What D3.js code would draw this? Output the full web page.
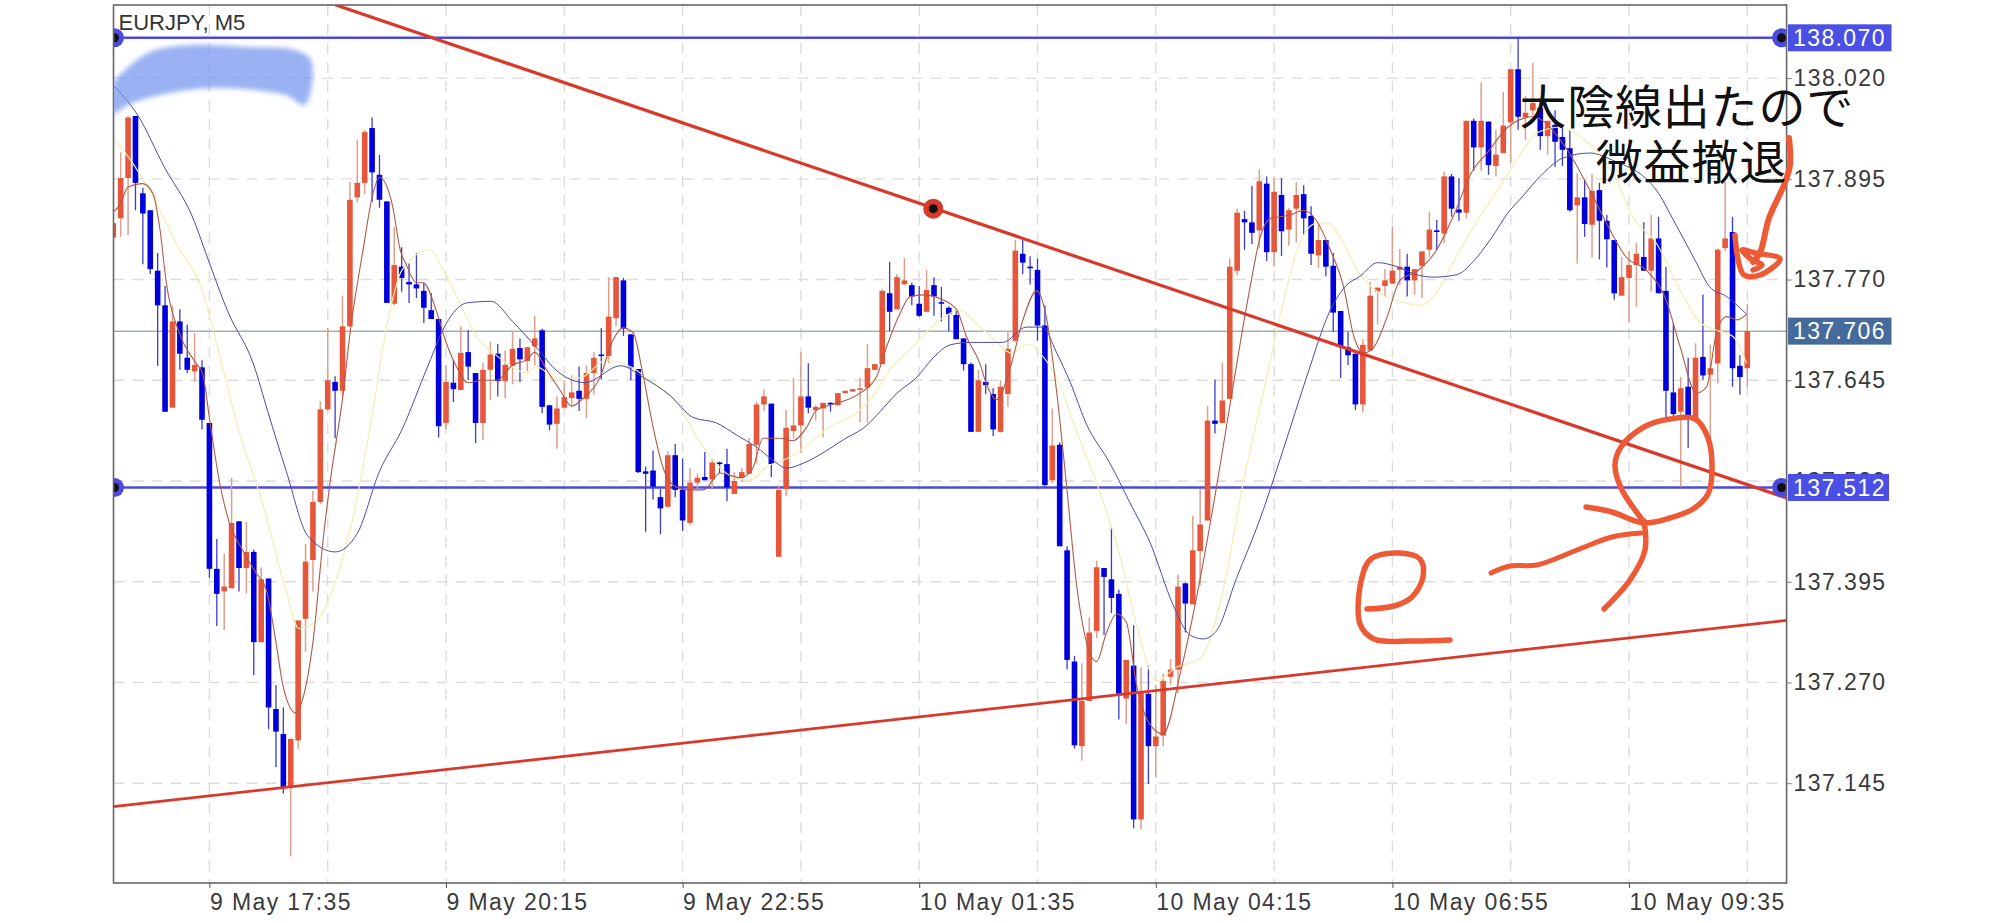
<!DOCTYPE html>
<html><head><meta charset="utf-8">
<script src="https://cdn.jsdelivr.net/npm/d3@7/dist/d3.min.js"></script>
<style>html,body{margin:0;padding:0;background:#fff}svg{display:block}
.ax text{font-family:"Liberation Sans",Arial,sans-serif;font-size:23px;letter-spacing:1.4px;fill:#3a3a3a}
</style></head><body><div id="c"></div>
<script>
const symbolTitle = "EURJPY, M5";
const noteLine1 = "大陰線出たので", noteLine2 = "微益撤退";
const yTicks = [138.020,137.895,137.770,137.645,137.520,137.395,137.270,137.145];
const xLabelIdx = [13,45,77,109,141,173,205];
const xLabels = ["9 May 17:35","9 May 20:15","9 May 22:55","10 May 01:35","10 May 04:15","10 May 06:55","10 May 09:35"];
const xGridIdx = [13,29,45,61,77,93,109,125,141,157,173,189,205,221];
const levelTop = 138.070, levelBottom = 137.512, lastPrice = 137.706;
const trendDown = [[30,138.111],[226.3,137.499]];
const trendUp = [[0,137.116],[226.3,137.347]];
const trendHandle = [110.9,137.858];

const opens = [137.822,137.846,137.896,137.973,137.877,137.856,137.781,137.738,137.611,137.718,
137.673,137.656,137.661,137.592,137.411,137.383,137.387,137.470,137.412,137.432,
137.320,137.399,137.237,137.206,137.141,137.198,137.349,137.422,137.494,137.609,
137.643,137.632,137.712,137.872,137.890,137.958,137.900,137.867,137.740,137.786,
137.767,137.764,137.756,137.732,137.721,137.592,137.642,137.633,137.680,137.654,
137.592,137.658,137.678,137.644,137.663,137.685,137.669,137.687,137.707,137.614,
137.591,137.611,137.623,137.632,137.622,137.654,137.677,137.675,137.722,137.769,
137.702,137.659,137.532,137.533,137.500,137.488,137.552,137.509,137.468,137.518,
137.525,137.522,137.543,137.541,137.504,137.524,137.529,137.565,137.615,137.616,
137.426,137.510,137.582,137.589,137.625,137.608,137.610,137.617,137.614,137.629,
137.631,137.634,137.636,137.658,137.665,137.753,137.733,137.764,137.763,137.740,
137.730,137.763,137.742,137.735,137.726,137.697,137.665,137.581,137.643,137.628,
137.581,137.628,137.694,137.802,137.786,137.782,137.713,137.521,137.565,137.434,
137.296,137.191,137.247,137.334,137.412,137.398,137.380,137.250,137.291,137.100,
137.256,137.191,137.204,137.277,137.286,137.393,137.367,137.433,137.471,137.595,
137.592,137.622,137.781,137.845,137.841,137.831,137.889,137.804,137.875,137.832,
137.858,137.876,137.849,137.800,137.819,137.787,137.731,137.686,137.678,137.615,
137.682,137.755,137.762,137.765,137.782,137.786,137.769,137.787,137.807,137.831,
137.827,137.898,137.857,137.853,137.967,137.934,137.966,137.911,137.927,137.965,
138.031,137.971,137.980,137.983,137.948,137.962,137.947,137.933,137.862,137.872,
137.838,137.881,137.843,137.819,137.750,137.772,137.788,137.798,137.781,137.821,
137.756,137.630,137.606,137.637,137.596,137.674,137.652,137.666,137.809,137.829,
137.663,137.660];
const closes = [137.840,137.896,137.971,137.890,137.852,137.783,137.738,137.606,137.718,137.678,
137.658,137.664,137.596,137.411,137.380,137.389,137.468,137.412,137.432,137.320,
137.398,137.239,137.209,137.139,137.200,137.347,137.420,137.494,137.609,137.645,
137.632,137.712,137.869,137.890,137.953,137.903,137.869,137.741,137.788,137.772,
137.764,137.759,137.735,137.721,137.588,137.643,137.634,137.679,137.662,137.592,
137.658,137.677,137.644,137.664,137.684,137.671,137.686,137.697,137.612,137.590,
137.610,137.624,137.630,137.622,137.654,137.673,137.676,137.724,137.773,137.709,
137.661,137.531,137.529,137.513,137.486,137.552,137.509,137.471,137.518,137.524,
137.521,137.543,137.541,137.512,137.520,137.531,137.566,137.615,137.625,137.541,
137.509,137.586,137.589,137.625,137.611,137.612,137.617,137.615,137.629,137.632,
137.634,137.635,137.660,137.665,137.756,137.730,137.773,137.769,137.749,137.725,
137.757,137.749,137.741,137.727,137.696,137.665,137.581,137.645,137.639,137.584,
137.637,137.684,137.806,137.791,137.784,137.713,137.515,137.564,137.439,137.298,
137.192,137.247,137.332,137.413,137.401,137.375,137.256,137.298,137.100,137.258,
137.191,137.203,137.272,137.286,137.389,137.368,137.434,137.466,137.595,137.591,
137.620,137.786,137.853,137.841,137.828,137.892,137.804,137.879,137.830,137.856,
137.875,137.846,137.802,137.819,137.786,137.729,137.687,137.676,137.615,137.689,
137.750,137.760,137.769,137.781,137.786,137.769,137.783,137.805,137.832,137.829,
137.898,137.858,137.853,137.967,137.934,137.967,137.912,137.925,137.961,138.031,
137.972,137.977,137.989,137.948,137.967,137.941,137.931,137.856,137.872,137.839,
137.880,137.843,137.820,137.753,137.773,137.788,137.802,137.781,137.821,137.753,
137.632,137.603,137.635,137.598,137.673,137.651,137.660,137.807,137.821,137.660,
137.649,137.706];
const highs = [137.840,137.928,137.973,137.973,137.884,137.856,137.803,137.762,137.738,137.733,
137.714,137.704,137.670,137.592,137.448,137.430,137.524,137.470,137.469,137.435,
137.413,137.399,137.267,137.239,137.200,137.347,137.442,137.508,137.619,137.710,
137.650,137.750,137.891,137.943,137.956,137.971,137.925,137.867,137.835,137.810,
137.790,137.803,137.766,137.753,137.721,137.664,137.670,137.712,137.707,137.654,
137.667,137.693,137.690,137.682,137.705,137.697,137.686,137.725,137.709,137.614,
137.625,137.645,137.651,137.662,137.664,137.680,137.710,137.773,137.773,137.772,
137.702,137.659,137.538,137.558,137.510,137.557,137.566,137.548,137.536,137.529,
137.556,137.548,137.544,137.560,137.531,137.536,137.573,137.618,137.634,137.616,
137.515,137.608,137.648,137.680,137.666,137.614,137.617,137.618,137.629,137.632,
137.634,137.648,137.690,137.665,137.758,137.792,137.777,137.797,137.766,137.762,
137.782,137.773,137.761,137.737,137.732,137.697,137.667,137.658,137.665,137.635,
137.645,137.706,137.819,137.819,137.799,137.796,137.738,137.610,137.568,137.439,
137.303,137.294,137.351,137.421,137.412,137.463,137.385,137.298,137.341,137.289,
137.291,137.267,137.281,137.299,137.404,137.394,137.477,137.510,137.613,137.646,
137.667,137.796,137.858,137.855,137.886,137.907,137.898,137.896,137.896,137.859,
137.891,137.887,137.861,137.840,137.819,137.803,137.731,137.705,137.678,137.696,
137.767,137.760,137.783,137.836,137.808,137.802,137.783,137.805,137.854,137.844,
137.904,137.901,137.896,137.967,137.970,138.015,137.966,137.956,138.003,138.031,
138.071,137.998,138.039,137.993,137.967,137.980,137.962,137.956,137.902,137.894,
137.901,137.890,137.850,137.819,137.798,137.805,137.815,137.841,137.850,137.848,
137.786,137.716,137.649,137.673,137.691,137.751,137.689,137.809,137.891,137.848,
137.676,137.740];
const lows = [137.822,137.823,137.825,137.856,137.789,137.777,137.663,137.606,137.611,137.658,
137.654,137.643,137.584,137.400,137.340,137.335,137.387,137.383,137.380,137.279,
137.320,137.212,137.165,137.132,137.054,137.187,137.308,137.383,137.491,137.607,
137.573,137.623,137.711,137.866,137.876,137.866,137.859,137.741,137.738,137.755,
137.741,137.747,137.716,137.721,137.574,137.584,137.618,137.633,137.645,137.567,
137.571,137.620,137.625,137.623,137.640,137.643,137.656,137.664,137.604,137.583,
137.560,137.610,137.612,137.607,137.598,137.627,137.646,137.666,137.712,137.700,
137.645,137.530,137.457,137.497,137.454,137.487,137.500,137.458,137.465,137.509,
137.521,137.511,137.530,137.495,137.504,137.519,137.529,137.542,137.607,137.525,
137.426,137.501,137.573,137.555,137.604,137.595,137.574,137.606,137.614,137.629,
137.631,137.593,137.592,137.658,137.665,137.706,137.733,137.764,137.738,137.724,
137.730,137.725,137.718,137.706,137.696,137.657,137.581,137.581,137.628,137.576,
137.580,137.612,137.693,137.777,137.764,137.694,137.512,137.517,137.439,137.286,
137.188,137.173,137.247,137.325,137.329,137.356,137.224,137.218,137.089,137.088,
137.144,137.152,137.191,137.267,137.257,137.332,137.367,137.391,137.471,137.579,
137.592,137.622,137.775,137.807,137.814,137.809,137.793,137.786,137.799,137.812,
137.816,137.826,137.788,137.784,137.774,137.705,137.648,137.664,137.608,137.605,
137.682,137.714,137.749,137.765,137.763,137.749,137.751,137.747,137.798,137.807,
137.815,137.848,137.843,137.846,137.905,137.905,137.900,137.898,137.927,137.915,
137.956,137.943,137.974,137.931,137.925,137.910,137.911,137.854,137.790,137.823,
137.797,137.795,137.785,137.745,137.750,137.716,137.736,137.781,137.755,137.753,
137.596,137.598,137.513,137.561,137.596,137.645,137.513,137.641,137.805,137.637,
137.627,137.637];

const fastMA = [[0,137.854],[0.9,137.863],[2,137.885],[4,137.889],[5.4,137.876],[6.3,137.833],[7.2,137.764],[9,137.702],[11.2,137.666],[12.1,137.653],[13,137.598],[14.4,137.517],[15.7,137.468],[17.5,137.434],[19.3,137.406],[20.7,137.385],[22,137.320],[23,137.264],[24.7,137.232],[25.7,137.252],[27,137.320],[28.4,137.449],[29.3,137.517],[31.1,137.629],[32,137.702],[33.8,137.808],[35.1,137.876],[36,137.897],[37.8,137.860],[38.8,137.807],[39.6,137.789],[41,137.766],[41.9,137.766],[43.8,137.728],[44.9,137.695],[46.3,137.664],[48,137.642],[49.8,137.645],[51.9,137.645],[54,137.664],[55.9,137.670],[57,137.680],[58.6,137.658],[60.4,137.633],[62,137.613],[63.6,137.623],[65.8,137.648],[67.6,137.695],[68.9,137.710],[70.3,137.704],[71.6,137.654],[73,137.587],[74.3,137.538],[75.7,137.515],[77.6,137.509],[79.8,137.509],[82.1,137.530],[84.8,137.524],[86.4,137.534],[87.9,137.573],[90.2,137.573],[91.9,137.570],[93.8,137.587],[95.1,137.608],[96.9,137.614],[101,137.629],[103.2,137.649],[104.6,137.687],[106.4,137.728],[107.8,137.749],[109.5,137.751],[112.2,137.745],[114.1,137.732],[115.4,137.699],[117.2,137.666],[118.1,137.640],[119.5,137.621],[121.3,137.660],[123,137.719],[124.9,137.756],[126.2,137.723],[127.6,137.630],[128.9,137.517],[130.3,137.390],[131.6,137.321],[133,137.296],[134.3,137.331],[135.7,137.355],[137,137.345],[138.4,137.267],[140.2,137.218],[142,137.206],[144.3,137.281],[146.5,137.375],[149.2,137.512],[151.4,137.635],[153.8,137.763],[155.1,137.822],[156.6,137.846],[159.1,137.850],[161,137.856],[162.8,137.842],[164.6,137.807],[166.4,137.761],[167.8,137.699],[169.1,137.679],[170.4,137.685],[172.3,137.724],[174,137.769],[176.3,137.780],[179,137.807],[181.2,137.848],[183.9,137.906],[185.8,137.927],[188.6,137.959],[192,137.972],[196.5,137.933],[199.7,137.881],[202.4,137.832],[204.6,137.798],[207.3,137.782],[210,137.745],[211.9,137.687],[214.1,137.629],[215.5,137.637],[216.9,137.707],[218.2,137.724],[219.7,137.720],[220.9,137.727]];
const midMA = [[0,137.946],[2.8,137.912],[5.2,137.876],[8.8,137.810],[11.9,137.760],[14.3,137.679],[16.7,137.591],[20.3,137.489],[23.3,137.386],[25.1,137.337],[27.5,137.346],[30,137.394],[32.4,137.474],[34.8,137.591],[37.2,137.722],[39,137.781],[42.8,137.807],[44.6,137.782],[46.9,137.741],[49.1,137.699],[50.9,137.683],[53.6,137.664],[55.9,137.654],[57.2,137.662],[59.9,137.648],[63.1,137.648],[66.7,137.670],[69.9,137.662],[72.6,137.645],[76.2,137.617],[78.9,137.575],[81.1,137.546],[83.4,137.527],[86.1,137.521],[88.4,137.538],[91.1,137.548],[94.2,137.567],[96.9,137.587],[100.5,137.604],[102.7,137.625],[105,137.658],[108.2,137.687],[111.8,137.720],[114.5,137.732],[116.8,137.714],[119,137.697],[121.4,137.679],[123.7,137.690],[125.3,137.679],[128,137.640],[130.3,137.581],[133.4,137.507],[136.1,137.429],[138.4,137.341],[141.1,137.272],[143.8,137.289],[146.9,137.299],[150,137.380],[152.8,137.517],[156,137.649],[157.8,137.724],[160.3,137.811],[162.8,137.840],[164.2,137.840],[166.4,137.815],[168.2,137.782],[171.3,137.753],[174,137.743],[176.7,137.738],[178.9,137.753],[181.2,137.791],[184.3,137.840],[187.9,137.890],[190.7,137.931],[192.5,137.952],[195.7,137.959],[198.4,137.947],[201,137.927],[203.3,137.894],[205.5,137.848],[208.7,137.815],[211.9,137.757],[214.7,137.716],[216.9,137.707],[219.1,137.699],[220.9,137.666]];
const slowMA = [[0,138.011],[3.3,137.974],[7,137.908],[10.6,137.850],[13.1,137.788],[15.5,137.730],[19,137.664],[20.9,137.606],[23.4,137.532],[26.3,137.452],[30,137.432],[33,137.455],[36,137.532],[39,137.583],[42.6,137.664],[45,137.715],[47.8,137.741],[51.1,137.743],[54,137.718],[57.2,137.686],[60.1,137.656],[63.8,137.642],[68.6,137.663],[71.6,137.649],[75.3,137.626],[78.4,137.599],[81.6,137.592],[84.3,137.577],[87,137.562],[89.2,137.546],[91.1,137.536],[93.3,137.542],[96,137.555],[98.7,137.571],[101.9,137.589],[103.7,137.606],[106,137.629],[108.7,137.649],[110.9,137.673],[113.2,137.689],[115.9,137.692],[120.3,137.692],[123.5,137.711],[125.7,137.711],[127.6,137.679],[129.4,137.643],[131.6,137.591],[134.8,137.542],[137.5,137.493],[140.2,137.444],[143.4,137.365],[145.6,137.329],[147.4,137.324],[149.2,137.334],[151.9,137.399],[155.1,137.473],[158.2,137.558],[161.4,137.649],[164.6,137.732],[166.8,137.763],[168.6,137.774],[171,137.791],[173.6,137.786],[176.3,137.776],[178.5,137.773],[181.7,137.776],[183.9,137.792],[186.2,137.819],[188.9,137.856],[190.2,137.869],[193.4,137.902],[196.1,137.921],[199.7,137.927],[202.8,137.918],[208.7,137.881],[211,137.844],[214.1,137.791],[215.9,137.761],[218.2,137.749],[220.9,137.727]];

// hand-drawn ink (screen annotations, not chart data)
const inkLoop = [[1641,518],[1621,488],[1615,465],[1621,447],[1644,427],[1670,419],[1695,419],[1708,438],[1712,471],[1708,494],[1693,509],[1670,518],[1644,523],[1612,512],[1586,507]];
const inkArrowShaft = [[1491,573],[1510,566],[1537,565],[1577,550],[1612,537],[1641,533]];
const inkArrowHead = [[1644,521],[1645,550],[1630,580],[1604,609]];
const inkE = [[1367,609],[1394,606],[1412,597],[1423,577],[1420,559],[1398,553],[1371,559],[1362,577],[1360,624],[1374,639],[1412,641],[1450,640]];
const inkDown = [[1789,138],[1790,165],[1784,185],[1769,218],[1760,253],[1753,262]];
const inkScribble = [[1735,235],[1738,259],[1744,275],[1760,275],[1780,259],[1755,253],[1742,250],[1751,259],[1762,265],[1753,270]];
const highlighter = [[113,85],[125,70],[150,52],[190,45],[250,47],[295,50],[311,60],[305,105],[285,95],[215,88],[165,94],[130,104],[113,113]];

const W=2000,H=923, L=113.5,R=1786.6,T=5,B=883;
const x=d3.scaleLinear().domain([0,221]).range([113.3,1747.3]);
const y=d3.scaleLinear().domain([137.145,138.02]).range([783.2,78.1]);
const svg=d3.select("#c").append("svg").attr("width",W).attr("height",H).style("background","#fff");
const defs=svg.append("defs");
defs.append("clipPath").attr("id","plot").append("rect").attr("x",L).attr("y",T).attr("width",R-L).attr("height",B-T);
defs.append("filter").attr("id","soft").append("feGaussianBlur").attr("stdDeviation",2.5);

const p=svg.append("g").attr("clip-path","url(#plot)");
const grid="#dcdcdc";
p.append("g").selectAll("line").data(yTicks).join("line").attr("x1",L).attr("x2",R).attr("y1",d=>y(d)).attr("y2",d=>y(d)).attr("stroke",grid).attr("stroke-width",1.4).attr("stroke-dasharray","11 8");
p.append("g").selectAll("line").data(xGridIdx).join("line").attr("x1",d=>x(d)).attr("x2",d=>x(d)).attr("y1",T).attr("y2",B).attr("stroke",grid).attr("stroke-width",1.4).attr("stroke-dasharray","11 8");
p.append("line").attr("x1",L).attr("x2",R).attr("y1",y(lastPrice)).attr("y2",y(lastPrice)).attr("stroke","#a2b1b4").attr("stroke-width",1.5);
const lvl="#4a4ade";
[levelTop,levelBottom].forEach(v=>p.append("line").attr("x1",L).attr("x2",R).attr("y1",y(v)).attr("y2",y(v)).attr("stroke",lvl).attr("stroke-width",2.6));

const up="#e6563a",dn="#0000dc";
const idx=d3.range(opens.length);
p.append("g").selectAll("line").data(idx).join("line")
 .attr("x1",i=>x(i)).attr("x2",i=>x(i)).attr("y1",i=>y(highs[i])).attr("y2",i=>y(lows[i]))
 .attr("stroke",i=>closes[i]>=opens[i]?"#dca08c":"#3c3ccc").attr("stroke-width",i=>closes[i]>=opens[i]?1.5:1.3);
p.append("g").selectAll("rect").data(idx).join("rect")
 .attr("x",i=>x(i)-2.8).attr("width",5.6)
 .attr("y",i=>y(Math.max(opens[i],closes[i])))
 .attr("height",i=>Math.max(1.6,Math.abs(y(opens[i])-y(closes[i]))))
 .attr("fill",i=>closes[i]>=opens[i]?up:dn);

const ln=d3.line().x(d=>x(d[0])).y(d=>y(d[1])).curve(d3.curveMonotoneX);
p.append("path").attr("d",ln(midMA)).attr("fill","none").attr("stroke","#f3efb0").attr("stroke-width",1.2);
p.append("path").attr("d",ln(slowMA)).attr("fill","none").attr("stroke","#4c4ca6").attr("stroke-width",1);
p.append("path").attr("d",ln(fastMA)).attr("fill","none").attr("stroke","#b05a46").attr("stroke-width",1.1);

const trend="#d8392b";
const tl=d3.line().x(d=>x(d[0])).y(d=>y(d[1]));
p.append("path").attr("d",tl(trendDown)).attr("stroke",trend).attr("stroke-width",3.2).attr("fill","none");
p.append("path").attr("d",tl(trendUp)).attr("stroke",trend).attr("stroke-width",2.8).attr("fill","none");
p.append("circle").attr("cx",x(trendHandle[0])).attr("cy",y(trendHandle[1])).attr("r",10).attr("fill",trend);
p.append("circle").attr("cx",x(trendHandle[0])).attr("cy",y(trendHandle[1])).attr("r",4.5).attr("fill","#111");
[levelTop,levelBottom].forEach(v=>[L+1,R-5].forEach(cx=>{
 p.append("circle").attr("cx",cx).attr("cy",y(v)).attr("r",9.5).attr("fill",lvl);
 p.append("circle").attr("cx",cx).attr("cy",y(v)).attr("r",4.5).attr("fill","#111");
}));

// frame
svg.append("rect").attr("x",L).attr("y",T).attr("width",R-L).attr("height",B-T).attr("fill","none").attr("stroke","#666").attr("stroke-width",1.6);

// axes
const yAxis=d3.axisRight(y).tickValues(yTicks).tickFormat(d3.format(".3f")).tickSize(5).tickPadding(2);
const ga=svg.append("g").attr("class","ax").attr("transform",`translate(${R},0)`).call(yAxis);
ga.select(".domain").remove(); ga.selectAll("line").attr("stroke","#777");
const xAxis=d3.axisBottom(x).tickValues(xLabelIdx).tickFormat((d,i)=>xLabels[i]).tickSize(5).tickPadding(1);
const gb=svg.append("g").attr("class","ax").attr("transform",`translate(0,${B})`).call(xAxis);
gb.select(".domain").remove(); gb.selectAll("line").attr("stroke","#555");
gb.selectAll("text").attr("text-anchor","start").attr("dy","0.9em");

// price boxes
[[levelTop,"#4a4fe6",103.5],[lastPrice,"#456a9c",103.5],[levelBottom,"#4a4fe6",101]].forEach(([v,c,w])=>{
 svg.append("rect").attr("x",1788).attr("y",y(v)-13.5).attr("width",w).attr("height",27).attr("fill",c);
 svg.append("text").attr("x",1793).attr("y",y(v)).attr("dy","0.36em").attr("fill","#fff")
  .style("font-family",'"Liberation Sans",Arial,sans-serif').style("font-size","23px").style("letter-spacing","1.4px").text(d3.format(".3f")(v));
});

// title
svg.append("text").attr("x",118.5).attr("y",30).attr("fill","#333")
 .style("font-family",'"Liberation Sans",Arial,sans-serif').style("font-size","22px").text(symbolTitle);

// highlighter
svg.append("path").attr("d",d3.line().curve(d3.curveCatmullRomClosed)(highlighter)).attr("fill","#6f92ee").attr("opacity",0.7).attr("filter","url(#soft)").attr("clip-path","url(#plot)");

// ink
const ink=d3.line().curve(d3.curveCatmullRom);
[[inkLoop,5.5],[inkArrowShaft,5],[inkArrowHead,5.5],[inkE,5.5],[inkDown,6],[inkScribble,5.5]].forEach(([s,w])=>
 svg.append("path").attr("d",ink(s)).attr("fill","none").attr("stroke","#ee5a35").attr("stroke-width",w).attr("stroke-linecap","round").attr("stroke-linejoin","round"));

// note text
const nt=(t,xx,yy)=>svg.append("text").attr("x",xx).attr("y",yy).attr("text-anchor","end").attr("fill","#111")
 .style("font-family",'"Noto Sans CJK JP",sans-serif').style("font-size","47px").style("font-weight",400).style("letter-spacing","0.8px").text(t);
nt(noteLine1,1854,124); nt(noteLine2,1787,179);
</script></body></html>
